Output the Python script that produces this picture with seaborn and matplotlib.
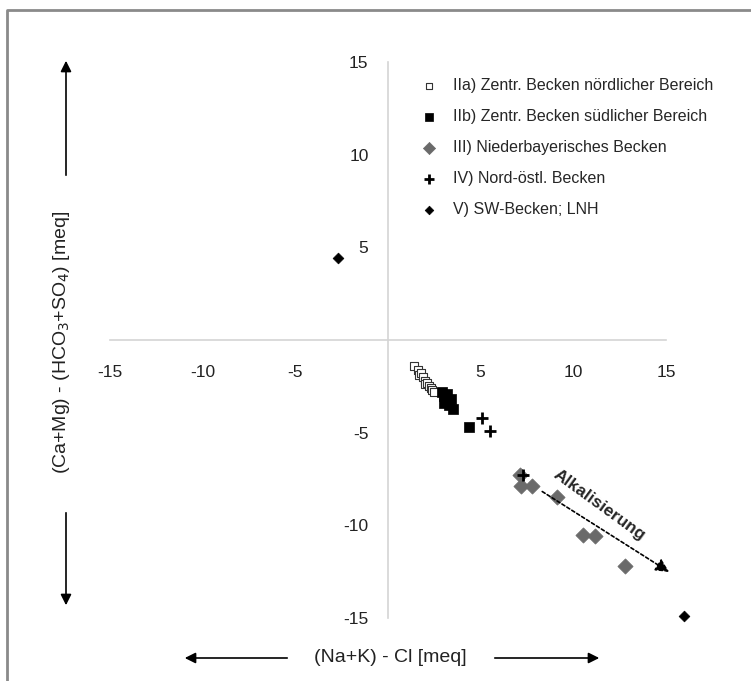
import matplotlib
matplotlib.use("Agg")
import matplotlib.pyplot as plt
import matplotlib.patches as mpatches
from matplotlib.lines import Line2D
import pandas as pd
import seaborn as sns

sns.set_style("white")
plt.rcParams["font.family"] = ["Liberation Sans", "DejaVu Sans"]
plt.rcParams["axes.unicode_minus"] = False

# group labels
groups = ["IIa) Zentr. Becken nördlicher Bereich",
          "IIb) Zentr. Becken südlicher Bereich",
          "III) Niederbayerisches Becken",
          "IV) Nord-östl. Becken",
          "V) SW-Becken; LNH"]

# (Na+K) - Cl values per group
x_2a = [1.4, 1.6, 1.7, 1.8, 1.9, 2.0, 2.0, 2.1, 2.2, 2.3, 2.4, 2.5]
y_2a = [-1.4, -1.6, -1.9, -1.8, -2.0, -2.2, -2.4, -2.3, -2.5, -2.6, -2.7, -2.8]
x_2b = [2.9, 3.0, 3.1, 3.2, 3.3, 3.4, 3.5, 3.0, 4.4]
y_2b = [-2.8, -3.0, -3.3, -2.9, -3.5, -3.2, -3.7, -3.4, -4.7]
x_3 = [7.1, 7.2, 7.8, 9.1, 10.5, 11.2, 12.8]
y_3 = [-7.3, -7.9, -7.9, -8.5, -10.5, -10.6, -12.2]
x_4 = [5.1, 5.5, 7.3]
y_4 = [-4.2, -4.9, -7.3]
x_5 = [-2.7, 16.0]
y_5 = [4.4, -14.9]

ticks = [-15, -10, -5, 5, 10, 15]

fig = plt.figure(figsize=(7.51, 6.81), dpi=100)
W, H = 751, 681
unit = 18.53
x0px, y15px = 110, 62
ax = fig.add_axes([x0px / W, (H - y15px - 30.6 * unit) / H,
                   31.6 * unit / W, 30.6 * unit / H])
ax.set_xlim(-15, 16.6)
ax.set_ylim(-15.6, 15)

styles = [
    (x_2a, y_2a, dict(marker="s", s=34, facecolor="white", edgecolor="#333333", linewidth=0.8)),
    (x_2b, y_2b, dict(marker="s", s=42, color="black", edgecolor="black", linewidth=0.5)),
    (x_3, y_3, dict(marker="D", s=60, color="#6a6a6a", edgecolor="#6a6a6a", linewidth=0.5)),
    (x_4, y_4, dict(marker="+", s=75, color="black", linewidth=2)),
    (x_5, y_5, dict(marker="D", s=30, color="black", edgecolor="black", linewidth=0.5)),
]
for (xs, ys, kw), g in zip(styles, groups):
    df = pd.DataFrame({"x": xs, "y": ys})
    sns.scatterplot(data=df, x="x", y="y", ax=ax, label=g, clip_on=False,
                    zorder=3, **kw)

# centred axes
for side in ["top", "right"]:
    ax.spines[side].set_visible(False)
for side in ["left", "bottom"]:
    ax.spines[side].set_position(("data", 0))
    ax.spines[side].set_color("#d4d4d4")
    ax.spines[side].set_linewidth(1.2)
ax.spines["bottom"].set_bounds(-15, 15)
ax.spines["left"].set_bounds(-15, 15)
ax.set_xticks(ticks)
ax.set_yticks(ticks)
ax.tick_params(direction="out", length=4, color="#d4d4d4", width=1.2,
               labelsize=12.5, labelcolor="#222222")
ax.tick_params(axis="x", pad=14)
ax.tick_params(axis="y", pad=10)
ax.set_xlabel("")
ax.set_ylabel("")

# legend
leg = ax.legend(loc="upper left", bbox_to_anchor=(413 / W, 1 - 70 / H),
                bbox_transform=fig.transFigure, frameon=False, fontsize=11.5,
                labelspacing=1.0, handletextpad=1.0, markerscale=0.8,
                borderpad=0, handlelength=1.0)

# Alkalisierung arrow
ax.annotate("", xy=(15.3, -12.6), xytext=(8.2, -8.1),
            arrowprops=dict(arrowstyle="-|>", linestyle=(0, (2, 1.5)),
                            color="black", lw=1.2, mutation_scale=20))
ax.text(11.4, -8.9, "Alkalisierung", rotation=-36, fontsize=12.5,
        fontweight="bold", ha="center", va="center",
        rotation_mode="anchor")

# axis titles with arrows
fig.text(390 / W, 1 - 657 / H, "(Na+K) - Cl [meq]", ha="center",
         va="center", fontsize=14, color="#222222")
fig.text(62 / W, 1 - 342 / H, "(Ca+Mg) - (HCO$_3$+SO$_4$) [meq]", ha="center",
         va="center", rotation=90, fontsize=14, color="#222222")
arr = dict(arrowstyle="-|>", color="black", lw=1.2, mutation_scale=16)
fig.add_artist(mpatches.FancyArrowPatch((290 / W, 1 - 658 / H), (182 / W, 1 - 658 / H),
                                        transform=fig.transFigure, **arr))
fig.add_artist(mpatches.FancyArrowPatch((492 / W, 1 - 658 / H), (602 / W, 1 - 658 / H),
                                        transform=fig.transFigure, **arr))
fig.add_artist(mpatches.FancyArrowPatch((66 / W, 1 - 178 / H), (66 / W, 1 - 58 / H),
                                        transform=fig.transFigure, **arr))
fig.add_artist(mpatches.FancyArrowPatch((66 / W, 1 - 510 / H), (66 / W, 1 - 608 / H),
                                        transform=fig.transFigure, **arr))

# outer frame (top and left edge visible)
fig.add_artist(Line2D([7 / W, 7 / W, 1.0], [0.0, 1 - 10 / H, 1 - 10 / H],
                      transform=fig.transFigure, color="#8a8a8a", lw=2))

fig.savefig("out.png", dpi=100)
